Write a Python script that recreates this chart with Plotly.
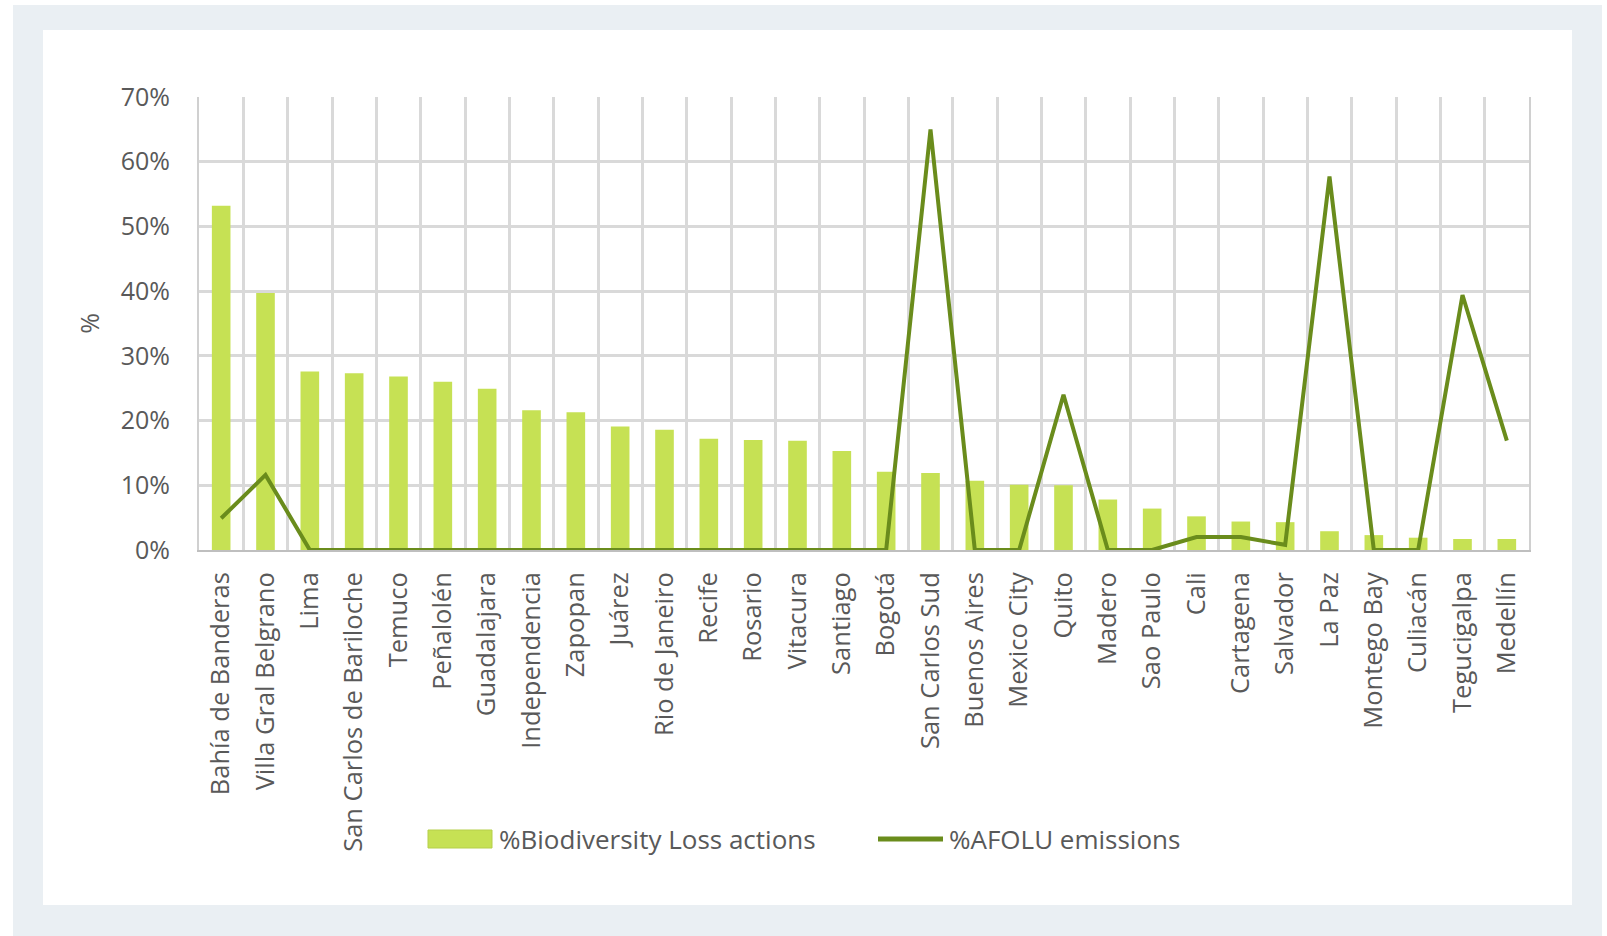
import plotly.graph_objects as go

cities = ["Bahía de Banderas", "Villa Gral Belgrano", "Lima", "San Carlos de Bariloche", "Temuco",
          "Peñalolén", "Guadalajara", "Independencia", "Zapopan", "Juárez", "Rio de Janeiro",
          "Recife", "Rosario", "Vitacura", "Santiago", "Bogotá", "San Carlos Sud", "Buenos Aires",
          "Mexico City", "Quito", "Madero", "Sao Paulo", "Cali", "Cartagena", "Salvador", "La Paz",
          "Montego Bay", "Culiacán", "Tegucigalpa", "Medellín"]
biodiversity_loss = [53.2, 39.7, 27.6, 27.3, 26.8, 26.0, 24.9, 21.6, 21.3, 19.1, 18.6, 17.2, 17.0,
                     16.9, 15.3, 12.1, 11.9, 10.7, 10.1, 10.0, 7.8, 6.4, 5.2, 4.4, 4.3, 2.9, 2.3,
                     1.9, 1.7, 1.7]
afolu_emissions = [4.9, 11.6, 0, 0, 0, 0, 0, 0, 0, 0, 0, 0, 0, 0, 0, 0, 65.0, 0, 0, 24.0, 0, 0,
                   2.0, 2.0, 0.8, 57.7, 0, 0, 39.4, 16.9]
y_ticks = [0, 10, 20, 30, 40, 50, 60, 70]
y_ticktext = [f"{v}%" for v in y_ticks]
bar_name = "%Biodiversity Loss actions"
line_name = "%AFOLU emissions"

W, H = 1607, 936
L, R, T, B = 199, 1529, 97, 550  # plot area in pixels
pw, ph = R - L, B - T

def px(x):
    return (x - L) / pw

def py(y):
    return (B - y) / ph

BAR = "#c6e154"
LINE = "#6a8c1c"
TXT = "#595959"
GRID = "#d9d9d9"

fig = go.Figure()
fig.add_trace(go.Bar(x=cities, y=biodiversity_loss, name=bar_name,
                     marker=dict(color=BAR, line=dict(width=0))))
fig.add_trace(go.Scatter(x=cities, y=afolu_emissions, name=line_name, mode="lines",
                         line=dict(color=LINE, width=4)))

LEG_Y = 839
shapes = [
    dict(type="rect", xref="paper", yref="paper", x0=px(13), x1=px(1602), y0=py(5), y1=py(940),
         fillcolor="#eaeff3", line=dict(width=0), layer="below"),
    dict(type="rect", xref="paper", yref="paper", x0=px(43), x1=px(1572), y0=py(30), y1=py(905),
         fillcolor="#ffffff", line=dict(width=0), layer="below"),
    # legend swatches
    dict(type="rect", xref="paper", yref="paper", x0=px(428), x1=px(492), y0=py(LEG_Y + 9),
         y1=py(LEG_Y - 9), fillcolor=BAR, line=dict(width=1, color="#b5cf4a")),
    dict(type="line", xref="paper", yref="paper", x0=px(878), x1=px(943), y0=py(LEG_Y),
         y1=py(LEG_Y), line=dict(width=5, color=LINE)),
]

legend_font = dict(family="Open Sans, sans-serif", size=26, color=TXT)
annotations = [
    dict(text=bar_name, xref="paper", yref="paper", x=px(497), y=py(LEG_Y), xanchor="left",
         yanchor="middle", showarrow=False, font=legend_font),
    dict(text=line_name, xref="paper", yref="paper", x=px(947), y=py(LEG_Y), xanchor="left",
         yanchor="middle", showarrow=False, font=legend_font),
]

fig.update_layout(
    width=W, height=H,
    margin=dict(l=L, r=W - R, t=T, b=H - B, pad=0),
    paper_bgcolor="#ffffff", plot_bgcolor="rgba(0,0,0,0)",
    bargap=0.58,
    shapes=shapes,
    annotations=annotations,
    font=dict(family="Open Sans, sans-serif", color=TXT),
    showlegend=False,
    xaxis=dict(type="category", tickangle=-90, tickson="boundaries", showgrid=True,
               gridcolor=GRID, gridwidth=2.5, ticks="", showline=True, linecolor="#bfbfbf",
               linewidth=2, mirror=False, layer="below traces",
               tickfont=dict(size=25.5, color=TXT), ticklabelstandoff=10),
    yaxis=dict(range=[0, 70], tickvals=y_ticks, ticktext=y_ticktext, showgrid=True,
               gridcolor=GRID, gridwidth=2.5, zeroline=False, showline=True, linecolor="#d0d0d0",
               linewidth=2, mirror=True, ticks="", tickfont=dict(size=25, color=TXT),
               ticklabelstandoff=22,
               title=dict(text="%", font=dict(size=25, color=TXT), standoff=14),
               layer="below traces"),
)

fig.write_html("out.html", config={"displayModeBar": False},
               post_script="document.body.style.margin='0';document.body.style.overflow='hidden';")
